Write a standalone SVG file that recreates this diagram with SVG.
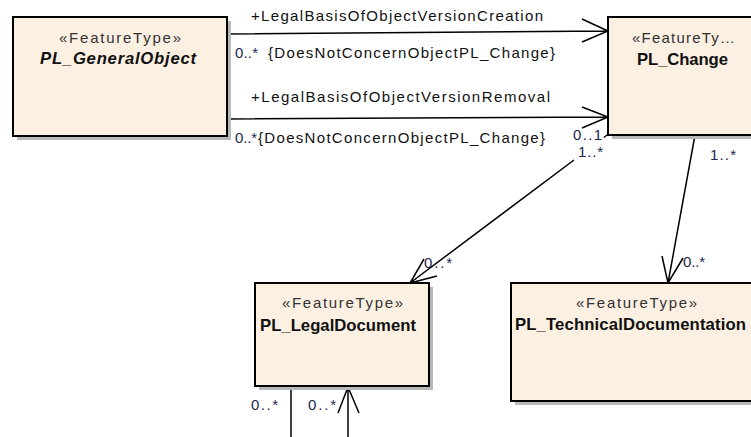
<svg xmlns="http://www.w3.org/2000/svg" width="751" height="437" viewBox="0 0 751 437">
<style>
text{font-family:"Liberation Sans",Arial,sans-serif}
.box{fill:#FBF0E2;stroke:#000;stroke-width:2}
.shadow{fill:#B8B8B8}
.st{font-size:15px;fill:#333}
.nm{font-size:16.7px;font-weight:bold;fill:#111}
.it{font-style:italic}
.ln{fill:none;stroke:#000;stroke-width:1.5}
.lb{font-size:15px;fill:#111}
.mu{font-size:15px;fill:#1E2650}
</style>
<rect width="751" height="437" fill="#fff"/>
<g id="connectors">
<path class="ln" d="M227,34 L608,31 M582,19 L608,31 L582,42"/>
<path class="ln" d="M227,119 L608,117 M582,107 L608,117 L582,128"/>
<path class="ln" d="M607,135 L604,137.5 M574,160 L410,283 M424,259 L410,283 L437,276"/>
<path class="ln" d="M695,135 L668,283 M662,256 L668,283 L683,258"/>
<path class="ln" d="M291,386 L291,437"/>
<path class="ln" d="M348,437 L348,387 M338,413 L348,387 L359,413"/>
<text class="lb" x="251" y="21" textLength="292" lengthAdjust="spacing">+LegalBasisOfObjectVersionCreation</text>
<text class="mu" x="235" y="58" textLength="23" lengthAdjust="spacing">0..*</text>
<text class="lb" x="268" y="58" textLength="287" lengthAdjust="spacing">{DoesNotConcernObjectPL_Change}</text>
<text class="lb" x="251" y="102" textLength="299" lengthAdjust="spacing">+LegalBasisOfObjectVersionRemoval</text>
<text class="mu" x="235" y="143" textLength="22" lengthAdjust="spacing">0..*</text>
<text class="lb" x="258" y="143" textLength="287" lengthAdjust="spacing">{DoesNotConcernObjectPL_Change}</text>
<text class="mu" x="573" y="140" textLength="29" lengthAdjust="spacing">0..1</text>
<text class="mu" x="578" y="157" textLength="25" lengthAdjust="spacing">1..*</text>
<text class="mu" x="710" y="160" textLength="26" lengthAdjust="spacing">1..*</text>
<text class="mu" x="424" y="268" textLength="28" lengthAdjust="spacing">0..*</text>
<text class="mu" x="683" y="267" textLength="22" lengthAdjust="spacing">0..*</text>
<text class="mu" x="251" y="410" textLength="27" lengthAdjust="spacing">0..*</text>
<text class="mu" x="308" y="410" textLength="28" lengthAdjust="spacing">0..*</text>
</g>
<g id="PL_GeneralObject">
<rect class="shadow" x="17" y="21" width="214" height="119"/>
<rect class="box" x="13" y="17" width="214" height="119"/>
<text class="st" x="59" y="43" textLength="122" lengthAdjust="spacing">«FeatureType»</text>
<text class="nm it" x="40" y="64" textLength="156" lengthAdjust="spacing">PL_GeneralObject</text>
</g>
<g id="PL_Change">
<rect class="shadow" x="612" y="21" width="150" height="118"/>
<rect class="box" x="608" y="17" width="150" height="118"/>
<text class="st" x="632" y="43" textLength="103" lengthAdjust="spacing">«FeatureTy…</text>
<text class="nm" x="637" y="65" textLength="91" lengthAdjust="spacing">PL_Change</text>
</g>
<g id="PL_LegalDocument">
<rect class="shadow" x="259" y="287" width="174" height="103"/>
<rect class="box" x="255" y="283" width="174" height="103"/>
<text class="st" x="282" y="308" textLength="121" lengthAdjust="spacing">«FeatureType»</text>
<text class="nm" x="260" y="331" textLength="156" lengthAdjust="spacing">PL_LegalDocument</text>
</g>
<g id="PL_TechnicalDocumentation">
<rect class="shadow" x="515" y="287" width="250" height="118"/>
<rect class="box" x="511" y="283" width="250" height="118"/>
<text class="st" x="576" y="308" textLength="121" lengthAdjust="spacing">«FeatureType»</text>
<text class="nm" x="515" y="330" textLength="231" lengthAdjust="spacing">PL_TechnicalDocumentation</text>
</g>
</svg>
